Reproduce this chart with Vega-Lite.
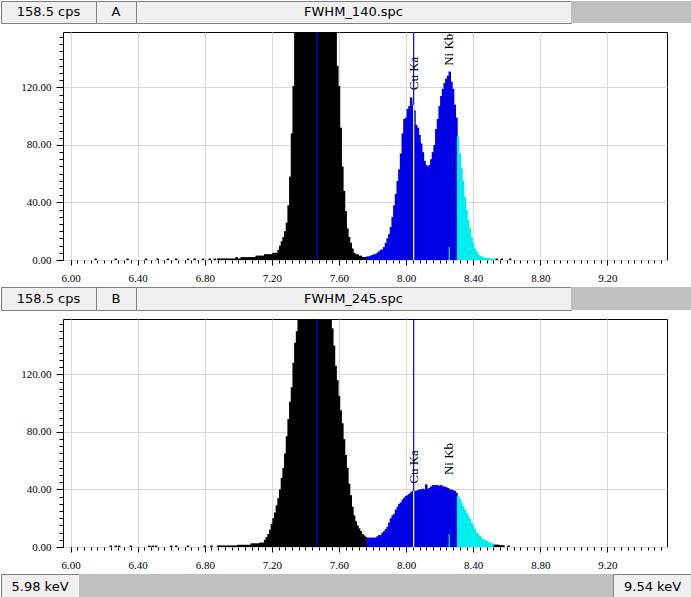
{
  "$schema": "https://vega.github.io/schema/vega-lite/v6.json",
  "padding": 0,
  "background": "#ffffff",
  "spacing": 0,
  "config": {"view": {"stroke": null}},
  "datasets": {
    "specA": [
      {"E":6.15,"c":1,"r":"k"},{"E":6.27,"c":1,"r":"k"},{"E":6.34,"c":1,"r":"k"},{"E":6.45,"c":1,"r":"k"},{"E":6.52,"c":1,"r":"k"},{"E":6.58,"c":1,"r":"k"},{"E":6.63,"c":1,"r":"k"},{"E":6.70,"c":1,"r":"k"},{"E":6.74,"c":1,"r":"k"},{"E":6.79,"c":1,"r":"k"},{"E":6.83,"c":1,"r":"k"},{"E":6.86,"c":1,"r":"k"},
      {"E":6.88,"c":1,"r":"k"},{"E":6.89,"c":1,"r":"k"},{"E":6.90,"c":1,"r":"k"},{"E":6.91,"c":1,"r":"k"},{"E":6.92,"c":1,"r":"k"},{"E":6.93,"c":1,"r":"k"},{"E":6.94,"c":1,"r":"k"},{"E":6.95,"c":1,"r":"k"},{"E":6.96,"c":1,"r":"k"},{"E":6.97,"c":1,"r":"k"},{"E":6.98,"c":1,"r":"k"},{"E":6.99,"c":2,"r":"k"},
      {"E":7.00,"c":1,"r":"k"},{"E":7.01,"c":1,"r":"k"},{"E":7.02,"c":2,"r":"k"},{"E":7.03,"c":2,"r":"k"},{"E":7.04,"c":2,"r":"k"},{"E":7.05,"c":2,"r":"k"},{"E":7.06,"c":2,"r":"k"},{"E":7.07,"c":2,"r":"k"},{"E":7.08,"c":2,"r":"k"},{"E":7.09,"c":2,"r":"k"},{"E":7.10,"c":2,"r":"k"},
      {"E":7.11,"c":3,"r":"k"},{"E":7.12,"c":3,"r":"k"},{"E":7.13,"c":3,"r":"k"},{"E":7.14,"c":3,"r":"k"},{"E":7.15,"c":3,"r":"k"},{"E":7.16,"c":4,"r":"k"},{"E":7.17,"c":4,"r":"k"},{"E":7.18,"c":4,"r":"k"},{"E":7.19,"c":4,"r":"k"},{"E":7.20,"c":4,"r":"k"},
      {"E":7.21,"c":5,"r":"k"},{"E":7.22,"c":5,"r":"k"},{"E":7.23,"c":5,"r":"k"},{"E":7.24,"c":7,"r":"k"},{"E":7.25,"c":10,"r":"k"},{"E":7.26,"c":13,"r":"k"},{"E":7.27,"c":16,"r":"k"},{"E":7.28,"c":20,"r":"k"},{"E":7.29,"c":26,"r":"k"},{"E":7.30,"c":38,"r":"k"},
      {"E":7.31,"c":58,"r":"k"},{"E":7.32,"c":88,"r":"k"},{"E":7.33,"c":121,"r":"k"},{"E":7.34,"c":160,"r":"k"},{"E":7.35,"c":200,"r":"k"},{"E":7.36,"c":290,"r":"k"},{"E":7.37,"c":400,"r":"k"},{"E":7.38,"c":530,"r":"k"},{"E":7.39,"c":680,"r":"k"},{"E":7.40,"c":830,"r":"k"},
      {"E":7.41,"c":970,"r":"k"},{"E":7.42,"c":1090,"r":"k"},{"E":7.43,"c":1180,"r":"k"},{"E":7.44,"c":1240,"r":"k"},{"E":7.45,"c":1270,"r":"k"},{"E":7.46,"c":1270,"r":"k"},{"E":7.47,"c":1250,"r":"k"},{"E":7.48,"c":1200,"r":"k"},{"E":7.49,"c":1120,"r":"k"},{"E":7.50,"c":1010,"r":"k"},
      {"E":7.51,"c":880,"r":"k"},{"E":7.52,"c":740,"r":"k"},{"E":7.53,"c":600,"r":"k"},{"E":7.54,"c":470,"r":"k"},{"E":7.55,"c":350,"r":"k"},{"E":7.56,"c":260,"r":"k"},{"E":7.57,"c":190,"r":"k"},{"E":7.58,"c":165,"r":"k"},{"E":7.59,"c":135,"r":"k"},{"E":7.60,"c":121,"r":"k"},
      {"E":7.61,"c":92,"r":"k"},{"E":7.62,"c":65,"r":"k"},{"E":7.63,"c":48,"r":"k"},{"E":7.64,"c":34,"r":"k"},{"E":7.65,"c":22,"r":"k"},{"E":7.66,"c":16,"r":"k"},{"E":7.67,"c":12,"r":"k"},{"E":7.68,"c":8,"r":"k"},{"E":7.69,"c":5,"r":"k"},{"E":7.70,"c":4,"r":"k"},
      {"E":7.71,"c":4,"r":"k"},{"E":7.72,"c":3,"r":"k"},{"E":7.73,"c":3,"r":"k"},{"E":7.74,"c":2,"r":"k"},{"E":7.75,"c":2,"r":"k"},{"E":7.76,"c":2,"r":"k"},
      {"E":7.77,"c":2.5,"r":"b"},{"E":7.78,"c":2.5,"r":"b"},{"E":7.79,"c":3,"r":"b"},{"E":7.80,"c":3.5,"r":"b"},{"E":7.81,"c":4,"r":"b"},{"E":7.82,"c":4,"r":"b"},{"E":7.83,"c":5,"r":"b"},{"E":7.84,"c":6,"r":"b"},{"E":7.85,"c":7,"r":"b"},{"E":7.86,"c":7.5,"r":"b"},
      {"E":7.87,"c":9,"r":"b"},{"E":7.88,"c":12,"r":"b"},{"E":7.89,"c":15,"r":"b"},{"E":7.90,"c":18,"r":"b"},{"E":7.91,"c":23,"r":"b"},{"E":7.92,"c":30,"r":"b"},{"E":7.93,"c":38,"r":"b"},{"E":7.94,"c":46,"r":"b"},{"E":7.95,"c":55,"r":"b"},{"E":7.96,"c":63,"r":"b"},
      {"E":7.97,"c":74,"r":"b"},{"E":7.98,"c":88,"r":"b"},{"E":7.99,"c":98,"r":"b"},{"E":8.00,"c":99,"r":"b"},{"E":8.01,"c":105,"r":"b"},{"E":8.02,"c":107,"r":"b"},{"E":8.03,"c":113,"r":"b"},{"E":8.04,"c":108,"r":"b"},{"E":8.05,"c":104,"r":"b"},{"E":8.06,"c":94,"r":"b"},
      {"E":8.07,"c":92,"r":"b"},{"E":8.08,"c":87,"r":"b"},{"E":8.09,"c":81,"r":"b"},{"E":8.10,"c":75,"r":"b"},{"E":8.11,"c":69,"r":"b"},{"E":8.12,"c":66,"r":"b"},{"E":8.13,"c":65,"r":"b"},{"E":8.14,"c":66,"r":"b"},{"E":8.15,"c":70,"r":"b"},{"E":8.16,"c":75,"r":"b"},
      {"E":8.17,"c":80,"r":"b"},{"E":8.18,"c":91,"r":"b"},{"E":8.19,"c":98,"r":"b"},{"E":8.20,"c":107,"r":"b"},{"E":8.21,"c":114,"r":"b"},{"E":8.22,"c":119,"r":"b"},{"E":8.23,"c":123,"r":"b"},{"E":8.24,"c":126,"r":"b"},{"E":8.25,"c":128,"r":"b"},{"E":8.26,"c":131,"r":"b"},
      {"E":8.27,"c":124,"r":"b"},{"E":8.28,"c":119,"r":"b"},{"E":8.29,"c":108,"r":"b"},{"E":8.30,"c":99,"r":"b"},
      {"E":8.31,"c":86,"r":"c"},{"E":8.32,"c":74,"r":"c"},{"E":8.33,"c":64,"r":"c"},{"E":8.34,"c":55,"r":"c"},{"E":8.35,"c":44,"r":"c"},{"E":8.36,"c":35,"r":"c"},{"E":8.37,"c":28,"r":"c"},{"E":8.38,"c":22,"r":"c"},{"E":8.39,"c":16,"r":"c"},{"E":8.40,"c":12,"r":"c"},
      {"E":8.41,"c":8,"r":"c"},{"E":8.42,"c":6,"r":"c"},{"E":8.43,"c":4,"r":"c"},{"E":8.44,"c":3,"r":"c"},{"E":8.45,"c":2.5,"r":"c"},{"E":8.46,"c":2,"r":"c"},{"E":8.47,"c":1.5,"r":"c"},{"E":8.48,"c":1.5,"r":"c"},{"E":8.49,"c":1.5,"r":"c"},{"E":8.50,"c":1,"r":"c"},
      {"E":8.51,"c":1,"r":"c"},{"E":8.52,"c":1,"r":"c"},
      {"E":8.54,"c":1,"r":"k"},{"E":8.57,"c":1,"r":"k"},{"E":8.62,"c":1,"r":"k"}
    ],
    "specB": [
      {"E":6.24,"c":1,"r":"k"},{"E":6.27,"c":1,"r":"k"},{"E":6.29,"c":1,"r":"k"},{"E":6.36,"c":1,"r":"k"},{"E":6.47,"c":1,"r":"k"},{"E":6.49,"c":1,"r":"k"},{"E":6.51,"c":1,"r":"k"},{"E":6.60,"c":1,"r":"k"},{"E":6.63,"c":1,"r":"k"},{"E":6.70,"c":1,"r":"k"},{"E":6.80,"c":1,"r":"k"},{"E":6.84,"c":1,"r":"k"},
      {"E":6.88,"c":1,"r":"k"},{"E":6.89,"c":1,"r":"k"},{"E":6.90,"c":1,"r":"k"},{"E":6.91,"c":1,"r":"k"},{"E":6.92,"c":1,"r":"k"},{"E":6.93,"c":1,"r":"k"},{"E":6.94,"c":1,"r":"k"},{"E":6.95,"c":1,"r":"k"},{"E":6.96,"c":1,"r":"k"},{"E":6.97,"c":1,"r":"k"},{"E":6.98,"c":1,"r":"k"},{"E":6.99,"c":1,"r":"k"},
      {"E":7.00,"c":1.5,"r":"k"},{"E":7.01,"c":1.5,"r":"k"},{"E":7.02,"c":1.5,"r":"k"},{"E":7.03,"c":1.5,"r":"k"},{"E":7.04,"c":1.5,"r":"k"},{"E":7.05,"c":1.5,"r":"k"},{"E":7.06,"c":1.5,"r":"k"},{"E":7.07,"c":1.5,"r":"k"},
      {"E":7.08,"c":2.5,"r":"k"},{"E":7.09,"c":2.5,"r":"k"},{"E":7.10,"c":2.5,"r":"k"},{"E":7.11,"c":2.5,"r":"k"},{"E":7.12,"c":2.5,"r":"k"},{"E":7.13,"c":3,"r":"k"},{"E":7.14,"c":3,"r":"k"},{"E":7.15,"c":3,"r":"k"},
      {"E":7.16,"c":5,"r":"k"},{"E":7.17,"c":7,"r":"k"},{"E":7.18,"c":9,"r":"k"},{"E":7.19,"c":12,"r":"k"},{"E":7.20,"c":16,"r":"k"},{"E":7.21,"c":20,"r":"k"},{"E":7.22,"c":24,"r":"k"},{"E":7.23,"c":29,"r":"k"},{"E":7.24,"c":34,"r":"k"},{"E":7.25,"c":40,"r":"k"},
      {"E":7.26,"c":48,"r":"k"},{"E":7.27,"c":55,"r":"k"},{"E":7.28,"c":65,"r":"k"},{"E":7.29,"c":77,"r":"k"},{"E":7.30,"c":89,"r":"k"},{"E":7.31,"c":101,"r":"k"},{"E":7.32,"c":111,"r":"k"},{"E":7.33,"c":128,"r":"k"},{"E":7.34,"c":142,"r":"k"},{"E":7.35,"c":150,"r":"k"},
      {"E":7.36,"c":170,"r":"k"},{"E":7.37,"c":190,"r":"k"},{"E":7.38,"c":215,"r":"k"},{"E":7.39,"c":235,"r":"k"},{"E":7.40,"c":255,"r":"k"},{"E":7.41,"c":270,"r":"k"},{"E":7.42,"c":285,"r":"k"},{"E":7.43,"c":295,"r":"k"},{"E":7.44,"c":300,"r":"k"},{"E":7.45,"c":305,"r":"k"},
      {"E":7.46,"c":305,"r":"k"},{"E":7.47,"c":305,"r":"k"},{"E":7.48,"c":300,"r":"k"},{"E":7.49,"c":295,"r":"k"},{"E":7.50,"c":285,"r":"k"},{"E":7.51,"c":270,"r":"k"},{"E":7.52,"c":250,"r":"k"},{"E":7.53,"c":230,"r":"k"},{"E":7.54,"c":205,"r":"k"},{"E":7.55,"c":180,"r":"k"},
      {"E":7.56,"c":152,"r":"k"},{"E":7.57,"c":140,"r":"k"},{"E":7.58,"c":126,"r":"k"},{"E":7.59,"c":116,"r":"k"},{"E":7.60,"c":105,"r":"k"},{"E":7.61,"c":95,"r":"k"},{"E":7.62,"c":86,"r":"k"},{"E":7.63,"c":75,"r":"k"},{"E":7.64,"c":64,"r":"k"},{"E":7.65,"c":55,"r":"k"},
      {"E":7.66,"c":44,"r":"k"},{"E":7.67,"c":36,"r":"k"},{"E":7.68,"c":28,"r":"k"},{"E":7.69,"c":22,"r":"k"},{"E":7.70,"c":18,"r":"k"},{"E":7.71,"c":15,"r":"k"},{"E":7.72,"c":13,"r":"k"},{"E":7.73,"c":11,"r":"k"},{"E":7.74,"c":9,"r":"k"},{"E":7.75,"c":8,"r":"k"},{"E":7.76,"c":7,"r":"k"},
      {"E":7.77,"c":6.5,"r":"b"},{"E":7.78,"c":6.5,"r":"b"},{"E":7.79,"c":6.5,"r":"b"},{"E":7.80,"c":6.5,"r":"b"},{"E":7.81,"c":6.5,"r":"b"},{"E":7.82,"c":6.5,"r":"b"},{"E":7.83,"c":7.5,"r":"b"},{"E":7.84,"c":8.3,"r":"b"},{"E":7.85,"c":8.3,"r":"b"},{"E":7.86,"c":10,"r":"b"},
      {"E":7.87,"c":11,"r":"b"},{"E":7.88,"c":12.5,"r":"b"},{"E":7.89,"c":14,"r":"b"},{"E":7.90,"c":17,"r":"b"},{"E":7.91,"c":20,"r":"b"},{"E":7.92,"c":22,"r":"b"},{"E":7.93,"c":23,"r":"b"},{"E":7.94,"c":26,"r":"b"},{"E":7.95,"c":28,"r":"b"},{"E":7.96,"c":30,"r":"b"},
      {"E":7.97,"c":31,"r":"b"},{"E":7.98,"c":33,"r":"b"},{"E":7.99,"c":34.3,"r":"b"},{"E":8.00,"c":35.5,"r":"b"},{"E":8.01,"c":36,"r":"b"},{"E":8.02,"c":37,"r":"b"},{"E":8.03,"c":38,"r":"b"},{"E":8.04,"c":39,"r":"b"},{"E":8.05,"c":39,"r":"b"},{"E":8.06,"c":39,"r":"b"},
      {"E":8.07,"c":39.5,"r":"b"},{"E":8.08,"c":40,"r":"b"},{"E":8.09,"c":40,"r":"b"},{"E":8.10,"c":40.5,"r":"b"},{"E":8.11,"c":40,"r":"b"},{"E":8.12,"c":43.6,"r":"b"},{"E":8.13,"c":40.5,"r":"b"},{"E":8.14,"c":41,"r":"b"},{"E":8.15,"c":42,"r":"b"},{"E":8.16,"c":43,"r":"b"},
      {"E":8.17,"c":43,"r":"b"},{"E":8.18,"c":43,"r":"b"},{"E":8.19,"c":43,"r":"b"},{"E":8.20,"c":42.5,"r":"b"},{"E":8.21,"c":43,"r":"b"},{"E":8.22,"c":42,"r":"b"},{"E":8.23,"c":42,"r":"b"},{"E":8.24,"c":41.5,"r":"b"},{"E":8.25,"c":41,"r":"b"},{"E":8.26,"c":40,"r":"b"},
      {"E":8.27,"c":40,"r":"b"},{"E":8.28,"c":39.5,"r":"b"},{"E":8.29,"c":39,"r":"b"},{"E":8.30,"c":37.8,"r":"b"},
      {"E":8.31,"c":35.5,"r":"c"},{"E":8.32,"c":33.6,"r":"c"},{"E":8.33,"c":31,"r":"c"},{"E":8.34,"c":28.5,"r":"c"},{"E":8.35,"c":26,"r":"c"},{"E":8.36,"c":24,"r":"c"},{"E":8.37,"c":22,"r":"c"},{"E":8.38,"c":19.5,"r":"c"},{"E":8.39,"c":17,"r":"c"},{"E":8.40,"c":15,"r":"c"},
      {"E":8.41,"c":12.5,"r":"c"},{"E":8.42,"c":10,"r":"c"},{"E":8.43,"c":9,"r":"c"},{"E":8.44,"c":7.7,"r":"c"},{"E":8.45,"c":6.5,"r":"c"},{"E":8.46,"c":5.3,"r":"c"},{"E":8.47,"c":4.9,"r":"c"},{"E":8.48,"c":4.2,"r":"c"},{"E":8.49,"c":3.5,"r":"c"},{"E":8.50,"c":3,"r":"c"},
      {"E":8.51,"c":2.5,"r":"c"},{"E":8.52,"c":2.5,"r":"c"},
      {"E":8.53,"c":1.6,"r":"k"},{"E":8.54,"c":1.6,"r":"k"},{"E":8.55,"c":1.6,"r":"k"},{"E":8.56,"c":1.2,"r":"k"},{"E":8.57,"c":1.2,"r":"k"},{"E":8.58,"c":1.2,"r":"k"},{"E":8.61,"c":1,"r":"k"}
    ],
    "lines": [{"E":7.47,"name":"Ni Ka","top":158.5},{"E":8.045,"name":"Cu Ka","top":158.5}],
    "mkA": [{"E":8.045,"lbl":"Cu Ka","ly":118,"top":108},{"E":8.257,"lbl":"Ni Kb","ly":135,"top":9}],
    "mkB": [{"E":8.045,"lbl":"Cu Ka","ly":44,"top":39},{"E":8.257,"lbl":"Ni Kb","ly":50,"top":9}],
    "none": []
  },
  "vconcat": [
    {
      "spacing": 0,
      "bounds": "flush",
      "hconcat": [
        {"width": 95, "height": 22, "view": {"fill": "#f0f0f0", "stroke": "#808080"}, "data": {"values": [{"t": "158.5 cps"}]}, "mark": {"type": "text", "font": "DejaVu Sans", "fontSize": 13, "color": "#000000"}, "encoding": {"text": {"field": "t", "type": "nominal"}}},
        {"width": 40, "height": 22, "view": {"fill": "#f0f0f0", "stroke": "#808080"}, "data": {"values": [{"t": "A"}]}, "mark": {"type": "text", "font": "DejaVu Sans", "fontSize": 13, "color": "#000000"}, "encoding": {"text": {"field": "t", "type": "nominal"}}},
        {"width": 435, "height": 22, "view": {"fill": "#f0f0f0", "stroke": "#808080"}, "data": {"values": [{"t": "FWHM_140.spc"}]}, "mark": {"type": "text", "font": "DejaVu Sans", "fontSize": 13, "color": "#000000"}, "encoding": {"text": {"field": "t", "type": "nominal"}}},
        {"width": 121, "height": 22, "view": {"fill": "#c0c0c0", "stroke": null}, "data": {"name": "none"}, "mark": {"type": "text"}, "encoding": {"text": {"field": "t", "type": "nominal"}}}
      ]
    },
    {"width": 1, "height": 6, "data": {"name": "none"}, "mark": {"type": "text"}, "encoding": {"text": {"field": "t", "type": "nominal"}}},
    {
      "spacing": 0,
      "bounds": "flush",
      "hconcat": [
        {"width": 62, "height": 228, "data": {"name": "none"}, "mark": {"type": "text"}, "encoding": {"text": {"field": "t", "type": "nominal"}}},
        {
          "width": 604,
          "height": 228,
          "view": {"stroke": "#000000", "strokeWidth": 1, "fill": "#ffffff"},
          "resolve": {"axis": {"x": "independent", "y": "independent"}},
          "layer": [
            {
              "data": {"name": "specA"},
              "mark": {"type": "bar", "size": 2.5, "clip": true},
              "encoding": {
                "x": {"field": "E", "type": "quantitative", "scale": {"domain": [5.985, 9.525], "nice": false, "zero": false},
                  "axis": {"orient": "bottom", "values": [6, 6.4, 6.8, 7.2, 7.6, 8, 8.4, 8.8, 9.2], "format": ".2f", "tickSize": 5, "tickColor": "#000000", "grid": true, "gridColor": "#d8d8d8", "domain": false, "title": null, "labelFont": "Liberation Serif", "labelFontSize": 11, "labelColor": "#000000", "labelPadding": 7, "labelFlush": false, "labelOverlap": false, "minExtent": 25.5}},
                "y": {"field": "c", "type": "quantitative", "scale": {"domain": [0, 158.5], "nice": false},
                  "axis": {"orient": "left", "values": [0, 40, 80, 120], "format": ".2f", "tickSize": 7, "tickColor": "#000000", "grid": true, "gridColor": "#d8d8d8", "domain": false, "title": null, "labelFont": "Liberation Serif", "labelFontSize": 11, "labelColor": "#000000", "labelPadding": 5, "labelFlush": false}},
                "color": {"field": "r", "type": "nominal", "scale": {"domain": ["k", "b", "c"], "range": ["#000000", "#0000e6", "#00eeee"]}, "legend": null}
              }
            },
            {
              "data": {"name": "lines"},
              "mark": {"type": "rule", "color": "#0000ff", "strokeWidth": 1.2},
              "encoding": {"x": {"field": "E", "type": "quantitative", "axis": null}, "y": {"field": "top", "type": "quantitative", "axis": null}, "y2": {"datum": 0}}
            },
            {
              "data": {"name": "mkA"},
              "transform": [{"filter": "datum.lbl == 'Cu Ka'"}],
              "mark": {"type": "rule", "color": "#ffffff", "strokeWidth": 1.2},
              "encoding": {"x": {"field": "E", "type": "quantitative", "axis": null}, "y": {"field": "top", "type": "quantitative", "axis": null}, "y2": {"datum": 0}}
            },
            {
              "data": {"name": "mkA"},
              "transform": [{"filter": "datum.lbl == 'Ni Kb'"}],
              "mark": {"type": "rule", "color": "#33ddee", "strokeWidth": 1.2},
              "encoding": {"x": {"field": "E", "type": "quantitative", "axis": null}, "y": {"field": "top", "type": "quantitative", "axis": null}, "y2": {"datum": 0}}
            },
            {
              "data": {"name": "mkA"},
              "mark": {"type": "text", "angle": 270, "align": "left", "baseline": "middle", "font": "Liberation Serif", "fontSize": 13, "color": "#000000"},
              "encoding": {
                "x": {"field": "E", "type": "quantitative",
                  "axis": {"orient": "bottom", "values": [6, 6.04, 6.08, 6.12, 6.16, 6.2, 6.24, 6.28, 6.32, 6.36, 6.4, 6.44, 6.48, 6.52, 6.56, 6.6, 6.64, 6.68, 6.72, 6.76, 6.8, 6.84, 6.88, 6.92, 6.96, 7, 7.04, 7.08, 7.12, 7.16, 7.2, 7.24, 7.28, 7.32, 7.36, 7.4, 7.44, 7.48, 7.52, 7.56, 7.6, 7.64, 7.68, 7.72, 7.76, 7.8, 7.84, 7.88, 7.92, 7.96, 8, 8.04, 8.08, 8.12, 8.16, 8.2, 8.24, 8.28, 8.32, 8.36, 8.4, 8.44, 8.48, 8.52, 8.56, 8.6, 8.64, 8.68, 8.72, 8.76, 8.8, 8.84, 8.88, 8.92, 8.96, 9, 9.04, 9.08, 9.12, 9.16, 9.2, 9.24, 9.28, 9.32, 9.36, 9.4, 9.44, 9.48, 9.52], "tickSize": 3, "tickColor": "#000000", "labels": false, "grid": false, "domain": false, "title": null, "minExtent": 0}},
                "y": {"field": "ly", "type": "quantitative",
                  "axis": {"orient": "left", "values": [0, 5, 10, 15, 20, 25, 30, 35, 40, 45, 50, 55, 60, 65, 70, 75, 80, 85, 90, 95, 100, 105, 110, 115, 120, 125, 130, 135, 140, 145, 150, 155], "tickSize": 4, "tickColor": "#000000", "labels": false, "grid": false, "domain": false, "title": null, "minExtent": 0}},
                "text": {"field": "lbl", "type": "nominal"}
              }
            }
          ]
        }
      ]
    },
    {
      "spacing": 0,
      "bounds": "flush",
      "hconcat": [
        {"width": 95, "height": 23, "view": {"fill": "#f0f0f0", "stroke": "#808080"}, "data": {"values": [{"t": "158.5 cps"}]}, "mark": {"type": "text", "font": "DejaVu Sans", "fontSize": 13, "color": "#000000"}, "encoding": {"text": {"field": "t", "type": "nominal"}}},
        {"width": 40, "height": 23, "view": {"fill": "#f0f0f0", "stroke": "#808080"}, "data": {"values": [{"t": "B"}]}, "mark": {"type": "text", "font": "DejaVu Sans", "fontSize": 13, "color": "#000000"}, "encoding": {"text": {"field": "t", "type": "nominal"}}},
        {"width": 435, "height": 23, "view": {"fill": "#f0f0f0", "stroke": "#808080"}, "data": {"values": [{"t": "FWHM_245.spc"}]}, "mark": {"type": "text", "font": "DejaVu Sans", "fontSize": 13, "color": "#000000"}, "encoding": {"text": {"field": "t", "type": "nominal"}}},
        {"width": 121, "height": 23, "view": {"fill": "#c0c0c0", "stroke": null}, "data": {"name": "none"}, "mark": {"type": "text"}, "encoding": {"text": {"field": "t", "type": "nominal"}}}
      ]
    },
    {"width": 1, "height": 6, "data": {"name": "none"}, "mark": {"type": "text"}, "encoding": {"text": {"field": "t", "type": "nominal"}}},
    {
      "spacing": 0,
      "bounds": "flush",
      "hconcat": [
        {"width": 62, "height": 228, "data": {"name": "none"}, "mark": {"type": "text"}, "encoding": {"text": {"field": "t", "type": "nominal"}}},
        {
          "width": 604,
          "height": 228,
          "view": {"stroke": "#000000", "strokeWidth": 1, "fill": "#ffffff"},
          "resolve": {"axis": {"x": "independent", "y": "independent"}},
          "layer": [
            {
              "data": {"name": "specB"},
              "mark": {"type": "bar", "size": 2.5, "clip": true},
              "encoding": {
                "x": {"field": "E", "type": "quantitative", "scale": {"domain": [5.985, 9.525], "nice": false, "zero": false},
                  "axis": {"orient": "bottom", "values": [6, 6.4, 6.8, 7.2, 7.6, 8, 8.4, 8.8, 9.2], "format": ".2f", "tickSize": 5, "tickColor": "#000000", "grid": true, "gridColor": "#d8d8d8", "domain": false, "title": null, "labelFont": "Liberation Serif", "labelFontSize": 11, "labelColor": "#000000", "labelPadding": 7, "labelFlush": false, "labelOverlap": false, "minExtent": 25}},
                "y": {"field": "c", "type": "quantitative", "scale": {"domain": [0, 158.5], "nice": false},
                  "axis": {"orient": "left", "values": [0, 40, 80, 120], "format": ".2f", "tickSize": 7, "tickColor": "#000000", "grid": true, "gridColor": "#d8d8d8", "domain": false, "title": null, "labelFont": "Liberation Serif", "labelFontSize": 11, "labelColor": "#000000", "labelPadding": 5, "labelFlush": false}},
                "color": {"field": "r", "type": "nominal", "scale": {"domain": ["k", "b", "c"], "range": ["#000000", "#0000e6", "#00eeee"]}, "legend": null}
              }
            },
            {
              "data": {"name": "lines"},
              "mark": {"type": "rule", "color": "#0000ff", "strokeWidth": 1.2},
              "encoding": {"x": {"field": "E", "type": "quantitative", "axis": null}, "y": {"field": "top", "type": "quantitative", "axis": null}, "y2": {"datum": 0}}
            },
            {
              "data": {"name": "mkB"},
              "transform": [{"filter": "datum.lbl == 'Cu Ka'"}],
              "mark": {"type": "rule", "color": "#ffffff", "strokeWidth": 1.2},
              "encoding": {"x": {"field": "E", "type": "quantitative", "axis": null}, "y": {"field": "top", "type": "quantitative", "axis": null}, "y2": {"datum": 0}}
            },
            {
              "data": {"name": "mkB"},
              "transform": [{"filter": "datum.lbl == 'Ni Kb'"}],
              "mark": {"type": "rule", "color": "#33ddee", "strokeWidth": 1.2},
              "encoding": {"x": {"field": "E", "type": "quantitative", "axis": null}, "y": {"field": "top", "type": "quantitative", "axis": null}, "y2": {"datum": 0}}
            },
            {
              "data": {"name": "mkB"},
              "mark": {"type": "text", "angle": 270, "align": "left", "baseline": "middle", "font": "Liberation Serif", "fontSize": 13, "color": "#000000"},
              "encoding": {
                "x": {"field": "E", "type": "quantitative",
                  "axis": {"orient": "bottom", "values": [6, 6.04, 6.08, 6.12, 6.16, 6.2, 6.24, 6.28, 6.32, 6.36, 6.4, 6.44, 6.48, 6.52, 6.56, 6.6, 6.64, 6.68, 6.72, 6.76, 6.8, 6.84, 6.88, 6.92, 6.96, 7, 7.04, 7.08, 7.12, 7.16, 7.2, 7.24, 7.28, 7.32, 7.36, 7.4, 7.44, 7.48, 7.52, 7.56, 7.6, 7.64, 7.68, 7.72, 7.76, 7.8, 7.84, 7.88, 7.92, 7.96, 8, 8.04, 8.08, 8.12, 8.16, 8.2, 8.24, 8.28, 8.32, 8.36, 8.4, 8.44, 8.48, 8.52, 8.56, 8.6, 8.64, 8.68, 8.72, 8.76, 8.8, 8.84, 8.88, 8.92, 8.96, 9, 9.04, 9.08, 9.12, 9.16, 9.2, 9.24, 9.28, 9.32, 9.36, 9.4, 9.44, 9.48, 9.52], "tickSize": 3, "tickColor": "#000000", "labels": false, "grid": false, "domain": false, "title": null, "minExtent": 0}},
                "y": {"field": "ly", "type": "quantitative",
                  "axis": {"orient": "left", "values": [0, 5, 10, 15, 20, 25, 30, 35, 40, 45, 50, 55, 60, 65, 70, 75, 80, 85, 90, 95, 100, 105, 110, 115, 120, 125, 130, 135, 140, 145, 150, 155], "tickSize": 4, "tickColor": "#000000", "labels": false, "grid": false, "domain": false, "title": null, "minExtent": 0}},
                "text": {"field": "lbl", "type": "nominal"}
              }
            }
          ]
        }
      ]
    },
    {
      "spacing": 0,
      "bounds": "flush",
      "hconcat": [
        {"width": 78, "height": 25, "view": {"fill": "#f0f0f0", "stroke": "#808080"}, "data": {"values": [{"t": "5.98 keV"}]}, "mark": {"type": "text", "font": "DejaVu Sans", "fontSize": 13, "color": "#000000"}, "encoding": {"text": {"field": "t", "type": "nominal"}}},
        {"width": 534, "height": 25, "view": {"fill": "#c0c0c0", "stroke": null}, "data": {"name": "none"}, "mark": {"type": "text"}, "encoding": {"text": {"field": "t", "type": "nominal"}}},
        {"width": 79, "height": 25, "view": {"fill": "#f0f0f0", "stroke": "#808080"}, "data": {"values": [{"t": "9.54 keV"}]}, "mark": {"type": "text", "font": "DejaVu Sans", "fontSize": 13, "color": "#000000"}, "encoding": {"text": {"field": "t", "type": "nominal"}}}
      ]
    }
  ]
}
